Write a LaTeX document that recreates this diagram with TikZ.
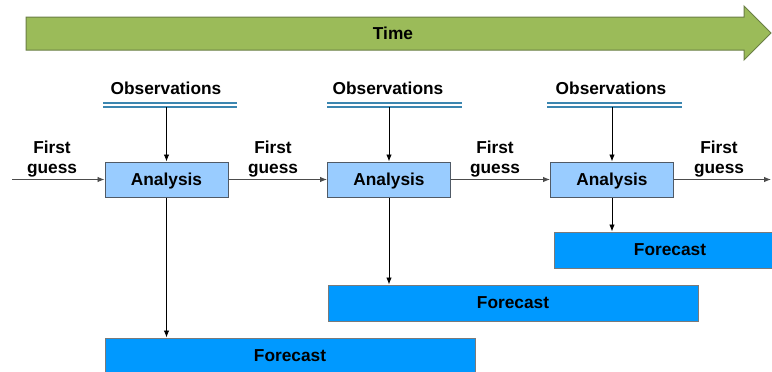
\documentclass[tikz,border=0pt]{standalone}
\usepackage{fontspec}
\setmainfont{Liberation Sans}
\usetikzlibrary{arrows.meta}
\definecolor{timegreen}{HTML}{9BBB59}
\definecolor{timeedge}{HTML}{6A7F45}
\definecolor{anafill}{HTML}{99CCFF}
\definecolor{anaedge}{HTML}{505A66}
\definecolor{fcfill}{HTML}{0099FF}
\definecolor{fcedge}{HTML}{7A7A7A}
\definecolor{obsblue}{HTML}{3B86B0}
\tikzset{
  lbl/.style={font=\fontsize{17.3}{20}\selectfont\bfseries, inner sep=0pt},
  anabox/.style={draw=anaedge, line width=1pt, fill=anafill, minimum width=123pt, minimum height=35pt, inner sep=0pt, text depth=0pt, font=\fontsize{17.3}{20}\selectfont\bfseries},
  fcbox/.style={draw=fcedge, line width=1pt, fill=fcfill, minimum height=36pt, inner sep=0pt, font=\fontsize{17.3}{20}\selectfont\bfseries},
  obsline/.style={draw=obsblue, line width=1.4pt},
  conn/.style={-{Latex[length=7pt,width=5.5pt]}, line width=0.9pt},
  hconn/.style={-{Latex[length=7pt,width=5.5pt]}, line width=0.9pt, draw=black!70, fill=black!70},
}
\begin{document}
\begin{tikzpicture}[x=1pt,y=-1pt]
\useasboundingbox (0,0) rectangle (772,372);
\clip (0,0) rectangle (772,372);
\fill[white] (0,0) rectangle (772,372);
% time arrow
\draw[fill=timegreen, draw=timeedge, line width=1pt] (26,17) -- (744,17) -- (744,6) -- (771,33) -- (744,60) -- (744,50) -- (26,50) -- cycle;
\node[lbl] (time) at (393,33) {Time};
% observations
\node[lbl] (obs1) at (166,88) {Observations};
\node[lbl] (obs2) at (388,88) {Observations};
\node[lbl] (obs3) at (611,88) {Observations};
\draw[obsline] (103,103) -- (237,103) (103,107) -- (237,107);
\draw[obsline] (327,103) -- (462,103) (327,107) -- (462,107);
\draw[obsline] (547,103) -- (682,103) (547,107) -- (682,107);
\coordinate (o1) at (166.5,107);
\coordinate (o2) at (389,107);
\coordinate (o3) at (612,107);
% analysis boxes
\node[anabox] (ana1) at (166.5,179.5) {Analysis};
\node[anabox] (ana2) at (389,179.5) {Analysis};
\node[anabox] (ana3) at (612,179.5) {Analysis};
% forecast boxes
\node[fcbox, minimum width=370pt] (fc1) at (290,356) {Forecast};
\node[fcbox, minimum width=370pt] (fc2) at (513,303) {Forecast};
\node[fcbox, minimum width=232pt] (fc3) at (670,250) {Forecast};
% first guess labels
\node[lbl, align=center] (fg0) at (52,159) {First\\guess};
\node[lbl, align=center] (fg1) at (273,159) {First\\guess};
\node[lbl, align=center] (fg2) at (495,159) {First\\guess};
\node[lbl, align=center] (fg3) at (719,159) {First\\guess};
\coordinate (in0) at (12,179.5);
\coordinate (out3) at (771,179.5);
% connectors
\draw[conn] (o1) -- (ana1.north);
\draw[conn] (o2) -- (ana2.north);
\draw[conn] (o3) -- (ana3.north);
\draw[hconn] (in0) -- (ana1.west);
\draw[hconn] (ana1.east) -- (ana2.west);
\draw[hconn] (ana2.east) -- (ana3.west);
\draw[hconn] (ana3.east) -- (out3);
\draw[conn] (ana1.south) -- (ana1.south |- fc1.north);
\draw[conn] (ana2.south) -- (ana2.south |- fc2.north);
\draw[conn] (ana3.south) -- (ana3.south |- fc3.north);
\end{tikzpicture}
\end{document}
